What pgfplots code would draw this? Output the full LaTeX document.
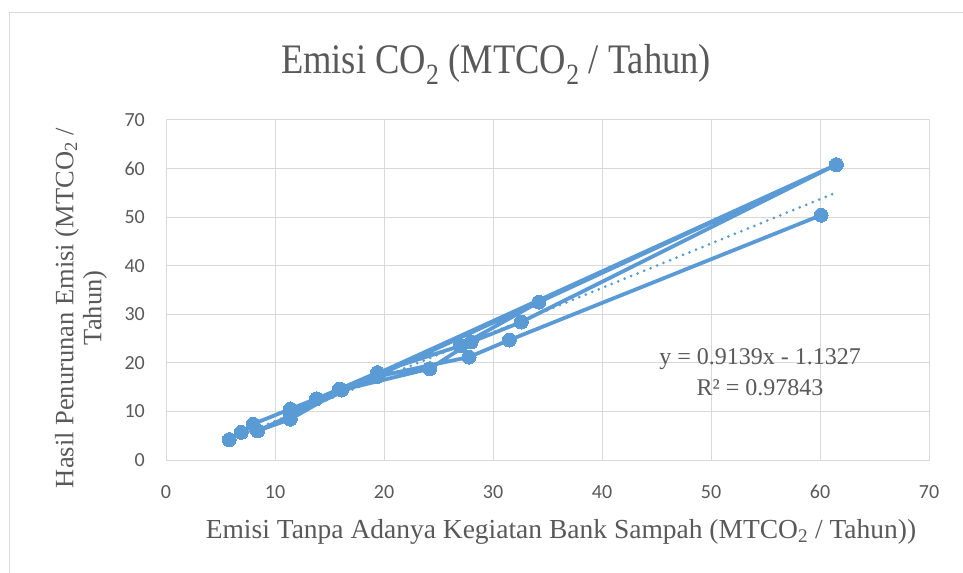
\documentclass[border=0pt]{standalone}
\usepackage{fontspec}
\setmainfont{Liberation Serif}
\newfontfamily\titlefont{Liberation Serif}[FakeStretch=0.87]
\newfontfamily\calibri{Carlito}
\usepackage{pgfplots}
\pgfplotsset{compat=1.18}
\definecolor{excelblue}{HTML}{5B9BD5}
\definecolor{gridgray}{HTML}{D9D9D9}
\definecolor{txtgray}{HTML}{595959}
\begin{document}
\begin{tikzpicture}
\path[use as bounding box] (-166bp,-113bp) rectangle (797bp,460bp);
\draw[gridgray, line width=1bp] (-156bp,-113bp) -- (-156bp,447bp) -- (797bp,447bp);
\begin{axis}[
  scale only axis, width=763bp, height=340bp,
  xmin=0, xmax=70, ymin=0, ymax=70,
  xtick={0,10,...,70}, ytick={0,10,...,70},
  grid=major, major grid style={gridgray, line width=1bp},
  axis line style={gridgray, line width=1bp},
  major tick length=0pt,
  tick label style={font=\fontsize{20bp}{24bp}\calibri, text=txtgray, inner sep=0pt},
  yticklabel style={anchor=east, xshift=-21bp},
  xticklabel style={anchor=north, yshift=-25bp},
  /pgf/number format/assume math mode=true,
  clip=false,
]
\addplot[color=excelblue, line width=3.8bp, line join=round, line cap=round,
  mark=*, mark size=7bp, mark options={solid, fill=excelblue, draw=excelblue, line width=0pt}]
coordinates {
(5.8,4.2) (6.9,5.7) (8.0,7.4) (11.4,10.5) (13.8,12.6) (15.9,14.6) (19.4,18.0)
(27.0,23.5) (34.2,32.5) (61.5,60.8)
(8.4,6.0) (11.4,8.4) (16.1,14.4) (24.2,18.8) (28.0,24.3) (32.6,28.4) (61.5,60.8)
(11.4,9.6) (19.4,17.2) (27.8,21.2) (31.5,24.7) (60.1,50.4)
};
\addplot[color=excelblue, line width=3bp, line cap=round, dash pattern=on 0bp off 7bp]
coordinates {(5.8,4.17) (61.5,55.07)};
\node[font=\fontsize{24bp}{28bp}\selectfont, text=txtgray] at (axis cs:54.5,20.8) {y = 0.9139x - 1.1327};
\node[font=\fontsize{24bp}{28bp}\selectfont, text=txtgray] at (axis cs:54.5,14.8) {R² = 0.97843};
\end{axis}
\node[font=\fontsize{42bp}{46bp}\titlefont, text=txtgray] at (330bp,396bp) {Emisi CO\textsubscript{2} (MTCO\textsubscript{2} / Tahun)};
\node[font=\fontsize{27.5bp}{31bp}\selectfont, text=txtgray] at (395bp,-72bp) {Emisi Tanpa Adanya Kegiatan Bank Sampah (MTCO\textsubscript{2} / Tahun))};
\node[rotate=90, align=center, font=\fontsize{26.5bp}{28bp}\selectfont, text=txtgray] at (-85bp,152bp) {Hasil Penurunan Emisi (MTCO\textsubscript{2} /\\Tahun)};
\end{tikzpicture}
\end{document}
